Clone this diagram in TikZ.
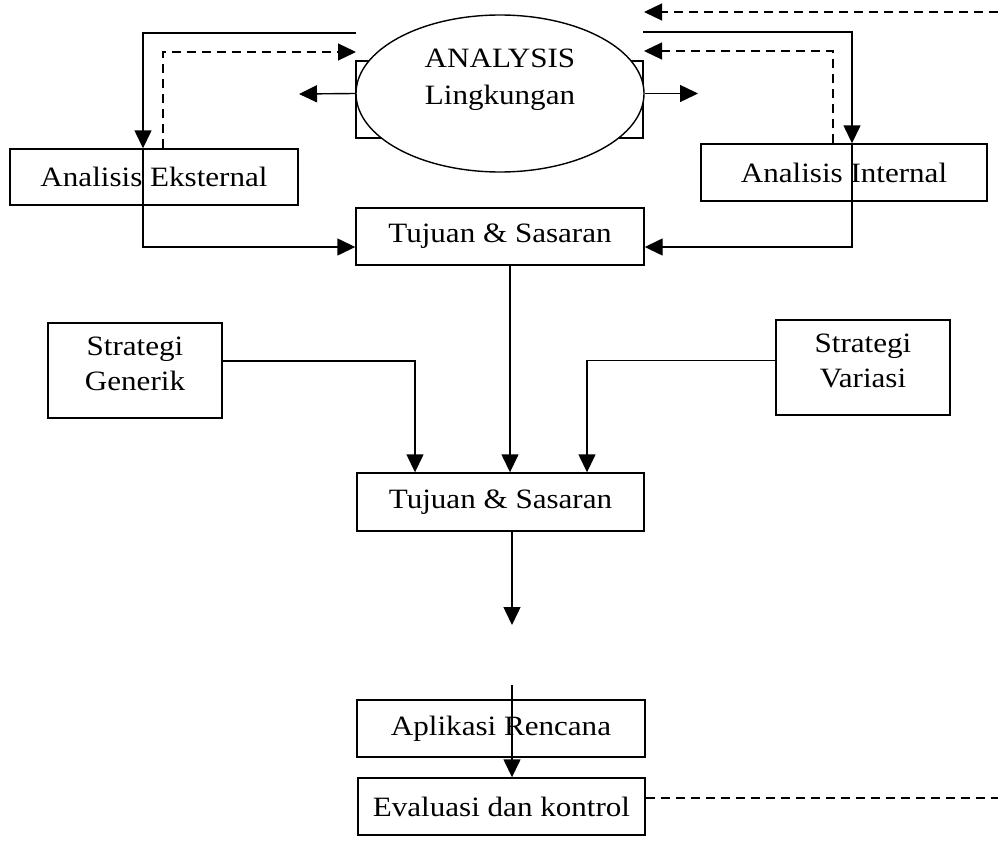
\documentclass[tikz,border=0pt]{standalone}
\usepackage{fontspec}
\setmainfont[FakeStretch=1.11]{Liberation Serif}
\usetikzlibrary{arrows.meta,shapes.geometric}

\begin{document}
\begin{tikzpicture}[x=1pt,y=-1pt,
  every node/.style={font=\fontsize{28}{35}\selectfont},
  ln/.style={line width=1.4pt},
  dsh/.style={line width=1.2pt, dash pattern=on 9pt off 6pt},
  arr/.style={-{Triangle[length=18pt,width=17pt]}},
  box/.style={draw, line width=1.4pt, rectangle, inner sep=0pt, align=center},
]
\useasboundingbox (0,0) rectangle (998,867);

% side tabs behind the environment-analysis ellipse
\draw[ln] (356,61) rectangle (395,138);
\draw[ln] (605,61) rectangle (643,138);

\node[ellipse, draw, line width=1.4pt, fill=white, minimum width=288pt,
      minimum height=157pt, inner sep=0pt] (ana) at (500,93.5) {};
\node[align=center, font=\fontsize{28}{37}\selectfont] (anatext) at (500,80)
  {ANALYSIS\\Lingkungan};

% boxes
\node[box, minimum width=288pt, minimum height=56pt] (ext) at (154,177) {Analisis Eksternal};
\node[box, minimum width=286pt, minimum height=57pt] (int) at (844,172.5) {Analisis Internal};
\node[box, minimum width=288pt, minimum height=57pt] (tuj1) at (500,236.5) {Tujuan \& Sasaran};
\node[box, minimum width=174pt, minimum height=95pt] (gen) at (135,370.5)
  {Strategi\\Generik\rule[-14pt]{0pt}{0pt}};
\node[box, minimum width=174pt, minimum height=95pt] (var) at (863,367.5)
  {Strategi\\Variasi\rule[-14pt]{0pt}{0pt}};
\node[box, minimum width=287pt, minimum height=58pt] (tuj2) at (500.5,502) {Tujuan \& Sasaran};
\node[box, minimum width=288pt, minimum height=57pt] (apl) at (501,728.5) {Aplikasi Rencana};
\node[box, minimum width=287pt, minimum height=57pt] (eva) at (501.5,806.5) {Evaluasi dan kontrol};

% free ends of connectors
\coordinate (lt) at (356,33);
\coordinate (ld) at (356,52);
\coordinate (lw) at (299,94);
\coordinate (tr) at (998,12);
\coordinate (trt) at (644,12);
\coordinate (rt) at (643,32);
\coordinate (rd) at (644,51);
\coordinate (rw) at (698,93.5);
\coordinate (mid) at (512,625);
\coordinate (mid2) at (512,685);
\coordinate (er) at (998,798);
\path ([xshift=10pt]tuj1.south) coordinate (t1s);

% connectors, left side
\draw[ln,arr] (lt) -| ([xshift=-11pt]ext.north);
\draw[ln,arr] ([xshift=-11pt]ext.north) |- ([yshift=-10.5pt]tuj1.west);
\draw[dsh,arr] ([xshift=9pt]ext.north) |- (ld);
\draw[ln,arr] (ana.west) -- (lw);

% connectors, right side
\draw[ln,arr] (ana.east) -- (rw);
\draw[dsh,arr] (tr) -- (trt);
\draw[ln,arr] (rt) -| ([xshift=8pt]int.north);
\draw[ln,arr] ([xshift=8pt]int.north) |- ([yshift=-10.5pt]tuj1.east);
\draw[dsh,arr] ([xshift=-11pt]int.north) |- (rd);

% middle column
\draw[ln,arr] (t1s) -- (t1s |- tuj2.north);
\draw[ln,arr] ([yshift=9.5pt]gen.east) -| ([xshift=-85.5pt]tuj2.north);
\draw[ln,arr] ([yshift=7pt]var.west) -| ([xshift=86.5pt]tuj2.north);
\draw[ln,arr] ([xshift=11.5pt]tuj2.south) -- (mid);
\draw[ln,arr] (mid2) -- ([xshift=10.5pt]eva.north);
\draw[dsh] ([yshift=8.5pt]eva.east) -- (er);
\end{tikzpicture}
\end{document}
